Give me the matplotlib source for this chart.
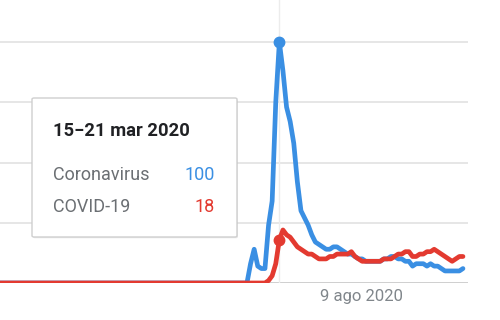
import matplotlib
matplotlib.use("Agg")
import matplotlib.pyplot as plt
import matplotlib.patches as mpatches
import matplotlib.transforms as mtransforms
import pandas as pd
import numpy as np

plt.rcParams['font.family'] = ['Roboto', 'DejaVu Sans']

# Weekly data (Google Trends style), starting 16 Sep 2018
start_date = "2018-09-16"
coronavirus = [0] * 70 + [
    8, 14, 7, 6, 6, 24, 34, 75,
    100, 88, 73, 67, 58, 42, 30, 27, 24, 20,
    17, 16, 15, 14, 14, 15, 15, 14, 13, 12,
    12, 11, 10, 10, 9, 9, 9, 9, 9, 10,
    10, 11, 11, 10, 10, 9, 9, 7, 8, 8,
    8, 7, 8, 7, 7, 6, 5, 5, 5, 5,
    5, 6]
covid19 = [0] * 75 + [
    1, 3, 8,
    18, 22, 20, 19, 17, 15, 14, 13, 12, 12,
    11, 10, 10, 10, 11, 11, 12, 12, 12, 12,
    13, 11, 10, 9, 9, 9, 9, 9, 9, 10,
    10, 10, 11, 12, 12, 13, 13, 11, 11, 12,
    12, 13, 13, 14, 13, 12, 11, 10, 9, 10,
    11, 11]
series_names = ["Coronavirus", "COVID-19"]
hover_label = "15\u221221 mar 2020"
hover_date = "2020-03-15"
tick_dates = ["2020-08-09"]
tick_labels = ["9 ago 2020"]
y_grid = [0, 25, 50, 75, 100]

dates = pd.date_range(start_date, periods=len(coronavirus), freq="7D")
hover = pd.Timestamp(hover_date)
hi = list(dates).index(hover)

BLUE = "#3a8fe3"
RED = "#e33a30"

fig = plt.figure(figsize=(5, 3.2), dpi=100)
ax = fig.add_axes([0, 37 / 320, 468 / 500, 283 / 320])
ax.set_ylim(0, 283 / 2.41)
wk = pd.Timedelta(days=7)
ax.set_xlim(hover - 77.6 * wk, hover + 52.4 * wk)

for v in y_grid[1:]:
    ax.axhline(v, color="#e2e2e2", lw=1.2, zorder=0)
ax.axhline(0, color="#cfcfcf", lw=1.4, zorder=0)
ax.axvline(hover, color="#ececec", lw=1.0, zorder=0)

ax.plot(dates, coronavirus, color=BLUE, lw=3.4, solid_joinstyle="round",
        solid_capstyle="round", zorder=3)
ax.plot(dates, covid19, color=RED, lw=3.4, solid_joinstyle="round",
        solid_capstyle="round", zorder=4)
ax.plot([dates[hi]], [coronavirus[hi]], "o", color=BLUE, ms=7.5, zorder=5)
ax.plot([dates[hi]], [covid19[hi]], "o", color=RED, ms=7.5, zorder=5)

for s in ax.spines.values():
    s.set_visible(False)
ax.set_yticks([])
ax.set_xticks([pd.Timestamp(d) for d in tick_dates])
ax.set_xticklabels(tick_labels, color="#80868b", fontsize=12)
ax.tick_params(axis="x", length=0, pad=4)
offset = mtransforms.ScaledTranslation(7 / 100, 0, fig.dpi_scale_trans)
for lab in ax.get_xticklabels():
    lab.set_transform(lab.get_transform() + offset)
ax.patch.set_alpha(0)

# Tooltip box
x0, x1 = 32 / 500, 237 / 500
y0, y1 = 1 - 237 / 320, 1 - 98 / 320
shadow = mpatches.FancyBboxPatch((x0 + 0.002, y0 - 0.004), x1 - x0, y1 - y0,
                                 boxstyle="round,pad=0,rounding_size=0.004",
                                 transform=fig.transFigure, facecolor="#000000",
                                 alpha=0.08, edgecolor="none", zorder=9)
box = mpatches.FancyBboxPatch((x0, y0), x1 - x0, y1 - y0,
                              boxstyle="round,pad=0,rounding_size=0.004",
                              transform=fig.transFigure, facecolor="white",
                              edgecolor="#cfcfcf", lw=1.0, zorder=10)
fig.patches.extend([shadow, box])

fig.text(53 / 500, 1 - 131 / 320, hover_label, fontsize=13.2, fontweight="bold",
         color="#202124", va="center", ha="left", zorder=11)
fig.text(53 / 500, 1 - 175 / 320, series_names[0], fontsize=13,
         color="#6b6f73", va="center", ha="left", zorder=11)
fig.text(53 / 500, 1 - 207 / 320, series_names[1], fontsize=13,
         color="#6b6f73", va="center", ha="left", zorder=11)
fig.text(215 / 500, 1 - 175 / 320, str(coronavirus[hi]), fontsize=13,
         color=BLUE, va="center", ha="right", zorder=11)
fig.text(215 / 500, 1 - 207 / 320, str(covid19[hi]), fontsize=13,
         color=RED, va="center", ha="right", zorder=11)

fig.savefig("out.png", dpi=100, facecolor="white")
